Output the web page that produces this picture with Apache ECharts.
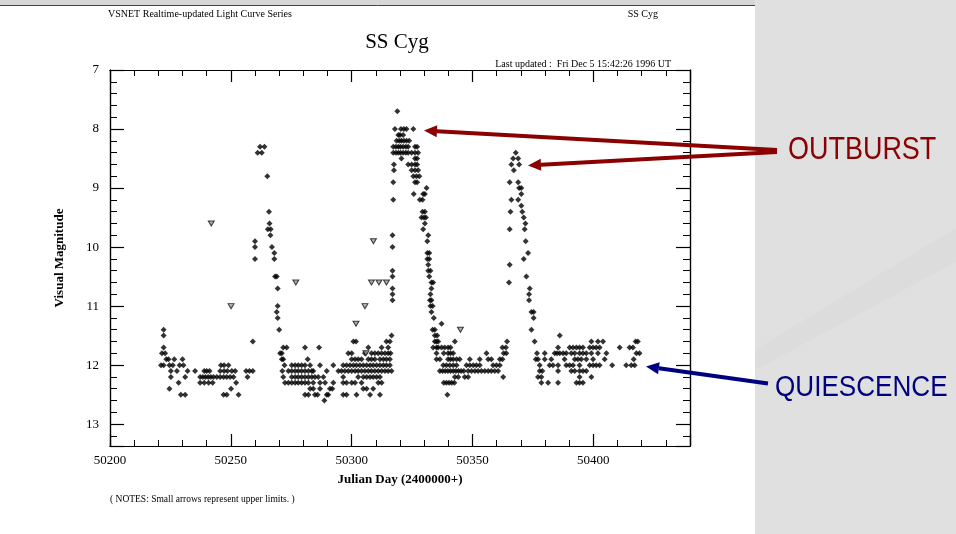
<!DOCTYPE html>
<html>
<head>
<meta charset="utf-8">
<script src="https://cdn.jsdelivr.net/npm/echarts@6/dist/echarts.min.js"></script>
<style>
  html, body { margin: 0; padding: 0; background: #e0e0e0; }
  #chart { width: 956px; height: 534px; }
</style>
</head>
<body>
<div id="chart"></div>
<script>
// SS Cyg visual light curve; each entry is [Julian Day - 2400000, visual magnitude]
const xTickLabels = [50200, 50250, 50300, 50350, 50400];
const yTickLabels = [7, 8, 9, 10, 11, 12, 13];

const quiet1 = [
  [50222.2,11.4],[50222.2,11.5],[50222.2,11.7],[50221.5,11.8],[50222.8,11.8],
  [50223.3,11.9],[50224.2,11.9],[50226.6,11.9],[50230.0,11.9],
  [50221.1,12.0],[50222.2,12.0],[50224.6,12.0],[50226.0,12.0],[50228.8,12.0],[50230.4,12.0],[50245.9,12.0],[50247.2,12.0],[50249.0,12.0],
  [50225.2,12.1],[50227.7,12.1],[50232.1,12.1],[50235.2,12.1],[50239.0,12.1],[50240.0,12.1],[50241.2,12.1],[50245.6,12.1],[50247.2,12.1],[50248.6,12.1],[50250.4,12.1],[50251.8,12.1],[50256.3,12.1],[50257.7,12.1],[50259.1,12.1],
  [50225.2,12.2],[50231.1,12.2],[50237.3,12.2],[50238.4,12.2],[50239.5,12.2],[50240.6,12.2],[50241.7,12.2],[50242.8,12.2],[50244.2,12.2],[50245.6,12.2],[50247.0,12.2],[50248.3,12.2],[50249.7,12.2],[50251.1,12.2],[50256.9,12.2],
  [50228.4,12.3],[50237.3,12.3],[50239.0,12.3],[50240.8,12.3],[50242.5,12.3],[50252.2,12.3],
  [50224.6,12.4],[50250.1,12.4],
  [50229.3,12.5],[50231.1,12.5],[50247.0,12.5],[50248.3,12.5],[50253.2,12.5],
  [50259.1,11.6]
];

const outburst1 = [
  [50260.0,9.9],[50260.0,10.0],[50260.0,10.2],[50261.1,8.4],[50262.1,8.3],[50262.8,8.4],[50263.9,8.3],
  [50265.1,8.8],[50265.8,9.4],[50266.0,9.6],[50265.3,9.7],[50266.5,9.7],[50266.4,9.8],[50267.0,10.0],
  [50268.0,10.1],[50268.0,10.2],[50268.3,10.5],[50269.0,10.5],[50269.4,10.7],[50269.4,11.0],
  [50269.0,11.1],[50269.4,11.2],[50270.0,11.4]
];

const quiet2 = [
  [50271.7,11.7],[50273.1,11.7],[50280.7,11.7],[50286.5,11.7],
  [50270.4,11.8],[50271.1,11.8],
  [50271.1,11.9],[50271.7,11.9],[50281.8,11.9],
  [50272.2,12.0],[50275.2,12.0],[50276.6,12.0],[50277.9,12.0],[50279.3,12.0],[50280.7,12.0],[50282.8,12.0],[50286.9,12.0],[50292.4,12.0],
  [50271.3,12.1],[50273.8,12.1],[50275.2,12.1],[50276.6,12.1],[50277.9,12.1],[50279.3,12.1],[50280.7,12.1],[50282.1,12.1],[50283.5,12.1],[50284.1,12.1],[50289.7,12.1],[50294.5,12.1],
  [50271.7,12.2],[50275.2,12.2],[50276.6,12.2],[50277.9,12.2],[50279.3,12.2],[50280.7,12.2],[50282.1,12.2],[50283.5,12.2],[50284.8,12.2],[50286.2,12.2],[50288.3,12.2],
  [50272.4,12.3],[50273.8,12.3],[50275.2,12.3],[50276.6,12.3],[50277.9,12.3],[50279.3,12.3],[50280.7,12.3],[50282.1,12.3],[50284.1,12.3],[50286.9,12.3],[50289.0,12.3],[50292.4,12.3],
  [50282.8,12.4],[50284.1,12.4],[50286.9,12.4],[50291.0,12.4],[50292.0,12.4],
  [50280.7,12.5],[50282.1,12.5],[50284.8,12.5],[50285.9,12.5],[50289.7,12.5],[50290.3,12.5],
  [50288.7,12.6],
  [50316.5,11.5],
  [50300.7,11.6],[50301.8,11.6],[50314.4,11.6],[50315.8,11.6],
  [50306.9,11.7],[50312.4,11.7],[50315.1,11.7],
  [50298.6,11.8],[50300.0,11.8],[50305.5,11.8],[50308.2,11.8],[50309.6,11.8],[50311.0,11.8],[50312.4,11.8],[50313.8,11.8],[50315.1,11.8],[50316.1,11.8],
  [50300.0,11.9],[50301.4,11.9],[50302.7,11.9],[50304.1,11.9],[50306.9,11.9],[50308.2,11.9],[50309.6,11.9],[50311.7,11.9],[50313.1,11.9],[50314.4,11.9],[50315.8,11.9],
  [50296.5,12.0],[50297.9,12.0],[50299.3,12.0],[50300.7,12.0],[50302.0,12.0],[50303.4,12.0],[50304.8,12.0],[50306.2,12.0],[50307.6,12.0],[50308.9,12.0],[50310.3,12.0],[50311.7,12.0],[50313.1,12.0],[50314.4,12.0],[50315.8,12.0],
  [50295.8,12.1],[50297.2,12.1],[50298.6,12.1],[50300.0,12.1],[50301.4,12.1],[50302.7,12.1],[50304.1,12.1],[50305.5,12.1],[50306.9,12.1],[50308.2,12.1],[50309.6,12.1],[50311.0,12.1],[50312.4,12.1],[50313.8,12.1],[50315.1,12.1],[50316.5,12.1],
  [50296.5,12.2],[50302.7,12.2],[50304.8,12.2],[50306.2,12.2],[50307.6,12.2],[50308.9,12.2],[50310.3,12.2],[50311.7,12.2],
  [50296.5,12.3],[50297.9,12.3],[50300.0,12.3],[50301.4,12.3],[50304.1,12.3],[50311.0,12.3],[50312.4,12.3],
  [50304.8,12.4],[50306.2,12.4],[50308.9,12.4],
  [50296.5,12.5],[50297.9,12.5],[50302.0,12.5],[50307.6,12.5],[50311.7,12.5]
];

const outburst2 = [
  [50316.9,10.9],[50316.9,10.8],[50316.9,10.7],[50316.9,10.5],[50316.9,10.4],[50316.9,10.0],[50316.9,9.8],
  [50317.2,9.2],[50317.2,8.9],[50317.5,8.7],[50317.5,8.6],
  [50318.9,7.7],
  [50317.9,8.0],[50320.4,8.0],[50321.6,8.0],[50322.7,8.0],[50325.5,8.0],
  [50319.3,8.1],[50320.0,8.1],[50321.3,8.1],
  [50318.6,8.2],[50319.7,8.2],[50320.6,8.2],[50321.6,8.2],[50322.7,8.2],[50323.8,8.2],
  [50317.2,8.3],[50318.3,8.3],[50319.3,8.3],[50320.2,8.3],[50321.3,8.3],[50322.4,8.3],[50323.4,8.3],[50326.2,8.3],[50327.1,8.3],
  [50317.2,8.4],[50318.3,8.4],[50319.3,8.4],[50320.2,8.4],[50321.3,8.4],[50322.4,8.4],[50323.4,8.4],[50324.8,8.4],[50326.2,8.4],[50327.5,8.4],
  [50320.6,8.5],[50326.2,8.5],[50327.1,8.5],
  [50323.4,8.6],[50324.8,8.6],[50326.2,8.6],[50327.1,8.6],
  [50324.8,8.7],[50326.2,8.7],[50327.5,8.7],
  [50325.5,8.8],[50326.8,8.8],[50328.0,8.8],
  [50326.2,8.9],[50327.1,8.9],
  [50331.0,9.0],
  [50325.7,9.1],[50329.6,9.1],[50330.3,9.1],
  [50328.2,9.2],[50329.3,9.2],
  [50329.3,9.4],[50330.3,9.4],
  [50328.9,9.5],[50329.9,9.5],[50330.7,9.5],
  [50330.3,9.6],[50329.6,9.7],[50331.7,9.8],[50331.3,9.9],
  [50331.3,10.1],[50332.1,10.1],[50331.3,10.2],[50332.1,10.2],[50331.7,10.3],
  [50331.7,10.4],[50332.6,10.4],[50332.1,10.5],[50333.0,10.6],[50333.7,10.6],
  [50333.0,10.7],[50332.6,10.8],[50332.4,10.9],[50333.0,10.9],
  [50332.6,11.0],[50333.5,11.0],[50333.0,11.1],[50334.0,11.2],[50337.2,11.3],
  [50333.5,11.4],[50334.4,11.4],[50334.4,11.5],[50335.4,11.5],
  [50334.4,11.6],[50335.1,11.6],[50333.7,11.7],[50335.1,11.7],[50335.1,11.8],[50335.1,11.9],[50336.5,12.1]
];

const quiet3 = [
  [50335.8,11.6],[50342.7,11.6],[50364.3,11.6],
  [50335.8,11.7],[50337.2,11.7],[50338.5,11.7],[50339.9,11.7],[50340.9,11.7],[50362.4,11.7],[50363.8,11.7],
  [50338.1,11.8],[50339.9,11.8],[50340.9,11.8],[50342.0,11.8],[50355.8,11.8],[50362.9,11.8],[50364.0,11.8],
  [50336.5,11.9],[50339.9,11.9],[50340.9,11.9],[50342.0,11.9],[50343.4,11.9],[50344.7,11.9],[50348.9,11.9],[50353.0,11.9],[50356.5,11.9],[50357.8,11.9],[50361.3,11.9],[50362.4,11.9],
  [50337.9,12.0],[50339.2,12.0],[50340.6,12.0],[50342.0,12.0],[50343.4,12.0],[50347.5,12.0],[50348.9,12.0],[50350.3,12.0],[50351.6,12.0],[50353.0,12.0],[50358.5,12.0],[50359.9,12.0],[50361.3,12.0],
  [50337.6,12.1],[50338.7,12.1],[50339.8,12.1],[50340.9,12.1],[50342.0,12.1],[50343.1,12.1],[50344.2,12.1],[50345.3,12.1],[50346.4,12.1],[50348.2,12.1],[50349.6,12.1],[50351.0,12.1],[50352.3,12.1],[50353.7,12.1],[50355.1,12.1],[50356.5,12.1],[50357.8,12.1],[50359.2,12.1],[50360.6,12.1],
  [50342.7,12.2],[50344.1,12.2],[50346.8,12.2],[50348.2,12.2],[50362.7,12.2],
  [50338.1,12.3],[50339.2,12.3],[50340.3,12.3],[50341.4,12.3],[50342.5,12.3],
  [50339.6,12.5]
];

const outburst3 = [
  [50367.9,8.4],[50366.8,8.5],[50368.9,8.5],[50366.1,8.6],[50369.3,8.6],[50367.1,8.7],
  [50365.4,8.9],[50368.9,8.9],[50369.3,9.0],[50370.2,9.0],[50370.2,9.1],[50366.1,9.2],[50368.9,9.2],
  [50370.2,9.3],[50365.7,9.4],[50370.6,9.4],[50371.2,9.5],[50371.9,9.6],[50365.4,9.7],[50371.6,9.7],
  [50372.0,9.9],[50373.0,10.1],[50371.2,10.2],[50365.4,10.3],[50372.3,10.5],[50365.1,10.6],
  [50373.7,10.7],[50373.4,10.8],[50373.4,10.9],[50374.4,11.1],[50375.3,11.1],[50375.3,11.2],
  [50374.4,11.4],[50375.7,11.6]
];

const quiet4 = [
  [50386.1,11.5],
  [50399.2,11.6],[50401.9,11.6],[50404.0,11.6],[50417.5,11.6],[50418.4,11.6],
  [50385.4,11.7],[50390.2,11.7],[50391.6,11.7],[50393.0,11.7],[50394.3,11.7],[50395.7,11.7],[50398.5,11.7],[50399.9,11.7],[50401.2,11.7],[50402.6,11.7],[50410.9,11.7],[50415.0,11.7],[50416.4,11.7],
  [50376.7,11.8],[50379.9,11.8],[50384.0,11.8],[50385.0,11.8],[50386.1,11.8],[50387.5,11.8],[50388.8,11.8],[50390.9,11.8],[50392.3,11.8],[50394.3,11.8],[50395.7,11.8],[50397.1,11.8],[50399.2,11.8],[50401.9,11.8],[50405.4,11.8],[50417.8,11.8],[50419.1,11.8],
  [50376.2,11.9],[50377.1,11.9],[50379.9,11.9],[50382.6,11.9],[50388.1,11.9],[50392.3,11.9],[50393.6,11.9],[50395.0,11.9],[50397.1,11.9],[50399.9,11.9],[50404.7,11.9],[50416.7,11.9],
  [50377.8,12.0],[50381.9,12.0],[50383.3,12.0],[50385.4,12.0],[50388.8,12.0],[50390.2,12.0],[50391.6,12.0],[50394.3,12.0],[50398.5,12.0],[50399.9,12.0],[50401.2,12.0],[50402.6,12.0],[50407.8,12.0],[50413.6,12.0],[50415.7,12.0],[50417.1,12.0],
  [50377.8,12.1],[50378.9,12.1],[50385.4,12.1],[50390.9,12.1],[50392.3,12.1],[50394.3,12.1],[50395.7,12.1],[50397.1,12.1],
  [50377.1,12.2],[50378.5,12.2],[50394.3,12.2],[50399.2,12.2],
  [50378.5,12.3],[50381.3,12.3],[50385.4,12.3],[50393.0,12.3],[50394.3,12.3],[50395.7,12.3]
];

// Upper limits ("fainter than"), drawn as small open arrows
const upperLimits = [
  [50241.9,9.6],[50250.1,11.0],[50276.9,10.6],[50301.8,11.3],[50305.5,11.0],[50305.9,11.8],
  [50308.2,10.6],[50311.3,10.6],[50314.4,10.6],[50309.0,9.9],[50345.0,11.4]
];

const observations = [].concat(quiet1, outburst1, quiet2, outburst2, quiet3, outburst3, quiet4);

const SERIF = '"Liberation Serif", "DejaVu Serif", serif';
const SANS = '"Liberation Sans", Arial, sans-serif';

function arrow(x1, y1, x2, y2, color, width, headLen, headHalf) {
  const dx = x2 - x1, dy = y2 - y1, len = Math.hypot(dx, dy);
  const ux = dx / len, uy = dy / len;
  const bx = x2 - ux * headLen, by = y2 - uy * headLen;
  const px = -uy, py = ux;
  return [
    { type: 'line', z: 50, shape: { x1: x1, y1: y1, x2: bx, y2: by },
      style: { stroke: color, lineWidth: width, lineCap: 'butt' } },
    { type: 'polygon', z: 50,
      shape: { points: [[x2, y2], [bx + px * headHalf, by + py * headHalf], [bx - px * headHalf, by - py * headHalf]] },
      style: { fill: color } }
  ];
}

const xMin = 50200, xMax = 50440, yMin = 7, yMax = 13.37;

function axisBase(extra) {
  return Object.assign({
    type: 'value',
    axisLine: { show: true, onZero: false, lineStyle: { color: '#000', width: 1.2 } },
    splitLine: { show: false },
    axisLabel: { show: false }
  }, extra);
}

const chart = echarts.init(document.getElementById('chart'), null, { renderer: 'canvas' });

const option = {
  animation: false,
  backgroundColor: '#e0e0e0',
  grid: { left: 110, right: 266, top: 70, bottom: 88, containLabel: false },
  xAxis: [
    axisBase({
      position: 'bottom', min: xMin, max: xMax, interval: 50,
      name: 'Julian Day (2400000+)', nameLocation: 'middle', nameGap: 27,
      nameTextStyle: { fontFamily: SERIF, fontSize: 13, color: '#000', fontWeight: 'bold' },
      axisTick: { inside: true, length: 12, lineStyle: { color: '#000', width: 1.2 } },
      axisLabel: {
        show: true, margin: 8, fontFamily: SERIF, fontSize: 13, color: '#000',
        formatter: v => (xTickLabels.indexOf(v) >= 0 ? String(v) : '')
      }
    }),
    axisBase({ position: 'bottom', min: xMin, max: xMax, interval: 10,
      axisTick: { inside: true, length: 6, lineStyle: { color: '#000', width: 1 } } }),
    axisBase({ position: 'top', min: xMin, max: xMax, interval: 50,
      axisTick: { inside: true, length: 12, lineStyle: { color: '#000', width: 1.2 } } }),
    axisBase({ position: 'top', min: xMin, max: xMax, interval: 10,
      axisTick: { inside: true, length: 6, lineStyle: { color: '#000', width: 1 } } })
  ],
  yAxis: [
    axisBase({
      position: 'left', inverse: true, min: yMin, max: yMax, interval: 1,
      name: 'Visual Magnitude', nameLocation: 'middle', nameGap: 44, nameRotate: 90,
      nameTextStyle: { fontFamily: SERIF, fontSize: 13, color: '#000', fontWeight: 'bold' },
      axisTick: { inside: true, length: 14, lineStyle: { color: '#000', width: 1.2 } },
      axisLabel: {
        show: true, margin: 11, fontFamily: SERIF, fontSize: 13, color: '#000',
        formatter: v => (yTickLabels.indexOf(v) >= 0 ? String(v) : '')
      }
    }),
    axisBase({ position: 'left', inverse: true, min: yMin, max: yMax, interval: 0.2,
      axisTick: { inside: true, length: 7, lineStyle: { color: '#000', width: 1 } } }),
    axisBase({ position: 'right', inverse: true, min: yMin, max: yMax, interval: 1,
      axisTick: { inside: true, length: 14, lineStyle: { color: '#000', width: 1.2 } } }),
    axisBase({ position: 'right', inverse: true, min: yMin, max: yMax, interval: 0.2,
      axisTick: { inside: true, length: 7, lineStyle: { color: '#000', width: 1 } } })
  ],
  series: [
    {
      name: 'Observations', type: 'scatter', xAxisIndex: 0, yAxisIndex: 0,
      symbol: 'diamond', symbolSize: [6, 6],
      itemStyle: { color: '#000' },
      data: observations, z: 5
    },
    {
      name: 'Upper limits', type: 'scatter', xAxisIndex: 0, yAxisIndex: 0,
      symbol: 'path://M0,0 L10,0 L5,9 Z', symbolSize: [6, 5],
      itemStyle: { color: '#9a9a9a', borderColor: '#111', borderWidth: 1 },
      data: upperLimits, z: 5
    }
  ],
  graphic: [
    // white page area on the slide
    { type: 'rect', z: -10, shape: { x: 0, y: 0, width: 755, height: 534 }, style: { fill: '#ffffff' } },
    { type: 'rect', z: -9, shape: { x: 0, y: 0, width: 755, height: 5 }, style: { fill: '#d6d6d6' } },
    { type: 'line', z: -8, shape: { x1: 0, y1: 5.5, x2: 755, y2: 5.5 }, style: { stroke: '#444', lineWidth: 1 } },
    // faint diagonal sweep on the slide background
    { type: 'polygon', z: -9, shape: { points: [[755, 350], [956, 228], [956, 262], [755, 370]] },
      style: { fill: '#dcdcdc' } },

    // page header
    { type: 'text', x: 108, y: 14, style: { text: 'VSNET Realtime-updated Light Curve Series', font: '10px ' + SERIF, fill: '#000', verticalAlign: 'middle' } },
    { type: 'text', x: 658, y: 14, style: { text: 'SS Cyg', font: '10px ' + SERIF, fill: '#000', align: 'right', verticalAlign: 'middle' } },
    { type: 'text', x: 397, y: 42, style: { text: 'SS Cyg', font: '21px ' + SERIF, fill: '#000', align: 'center', verticalAlign: 'middle' } },
    { type: 'text', x: 671, y: 64, style: { text: 'Last updated :  Fri Dec 5 15:42:26 1996 UT', font: '10px ' + SERIF, fill: '#000', align: 'right', verticalAlign: 'middle' } },
    { type: 'text', x: 110, y: 499, style: { text: '( NOTES: Small arrows represent upper limits. )', font: '9.5px ' + SERIF, fill: '#000', verticalAlign: 'middle' } },

    // annotations
    { type: 'text', z: 50, x: 788, y: 150, scaleX: 0.87, style: { text: 'OUTBURST', font: '31px ' + SANS, fill: '#8b0000', verticalAlign: 'middle' } },
    { type: 'text', z: 50, x: 775, y: 388, scaleX: 0.87, style: { text: 'QUIESCENCE', font: '30px ' + SANS, fill: '#000080', verticalAlign: 'middle' } }
  ]
    .concat(arrow(777, 150, 424, 130.5, '#8b0000', 4, 13, 6))
    .concat(arrow(777, 152, 528, 165.5, '#8b0000', 4, 13, 6))
    .concat(arrow(768, 383.5, 646, 366.5, '#000080', 4, 13, 6))
};

chart.setOption(option);
</script>
</body>
</html>
